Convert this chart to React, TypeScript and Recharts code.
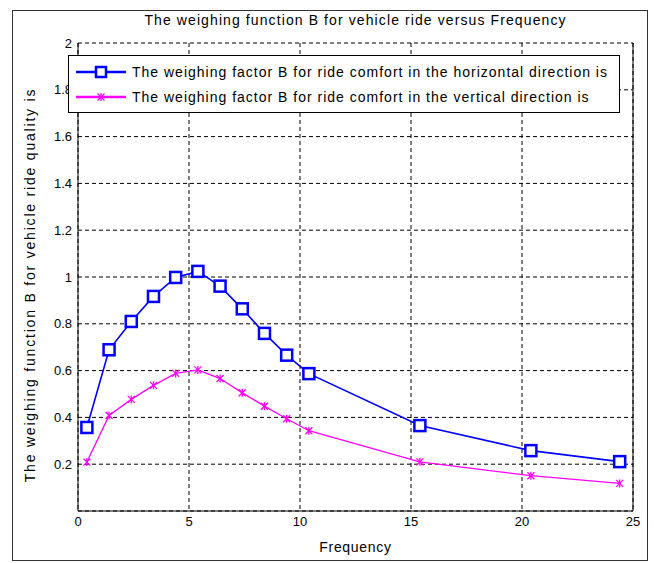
import React from 'react';
import {
  LineChart,
  Line,
  XAxis,
  YAxis,
  CartesianGrid,
  Legend,
  ReferenceLine,
} from 'recharts';

const frequency = [0.4, 1.4, 2.4, 3.4, 4.4, 5.4, 6.4, 7.4, 8.4, 9.4, 10.4, 15.4, 20.4, 24.4];
const horizontalB = [0.357, 0.689, 0.81, 0.917, 0.998, 1.024, 0.961, 0.864, 0.759, 0.666, 0.587, 0.365, 0.258, 0.211];
const verticalB = [0.209, 0.408, 0.477, 0.537, 0.588, 0.603, 0.566, 0.505, 0.448, 0.394, 0.343, 0.21, 0.151, 0.118];

const xTicks = [0, 5, 10, 15, 20, 25];
const yTicks = [0.2, 0.4, 0.6, 0.8, 1, 1.2, 1.4, 1.6, 1.8, 2];

const seriesNames = {
  horizontal: 'The weighing factor B for ride comfort in the horizontal direction is',
  vertical: 'The weighing factor B for ride comfort in the vertical direction is',
};

const data = frequency.map((f, i) => ({
  f,
  horizontal: horizontalB[i],
  vertical: verticalB[i],
}));

const FONT = '"Liberation Sans", Arial, sans-serif';
const BLUE = '#0000ff';
const PINK = '#ff00ff';

// blue square marker, white inside
const SquareDot = (props: any) => {
  const { cx, cy } = props;
  if (cx == null || cy == null) return null;
  return (
    <rect x={cx - 5.5} y={cy - 5.5} width={11} height={11} fill="#fff" stroke={BLUE} strokeWidth={2.5} />
  );
};

// matlab-style '*' marker
const StarDot = (props: any) => {
  const { cx, cy } = props;
  if (cx == null || cy == null) return null;
  const r = 3.5;
  return (
    <g stroke={PINK} strokeWidth={1.3}>
      <line x1={cx - r} y1={cy - r} x2={cx + r} y2={cy + r} />
      <line x1={cx - r} y1={cy + r} x2={cx + r} y2={cy - r} />
      <line x1={cx} y1={cy - r - 0.5} x2={cx} y2={cy + r + 0.5} />
    </g>
  );
};

const renderLegend = () => {
  const rows = [
    { name: seriesNames.horizontal, color: BLUE, marker: 'square' },
    { name: seriesNames.vertical, color: PINK, marker: 'star' },
  ];
  return (
    <div
      style={{
        border: '1px solid #000',
        background: '#fff',
        width: 552,
        height: 58,
        boxSizing: 'border-box',
        paddingTop: 3,
      }}
    >
      {rows.map((r) => (
        <div key={r.name} style={{ display: 'flex', alignItems: 'center', height: 25 }}>
          <svg width={58} height={16} style={{ flex: 'none', marginLeft: 5 }}>
            <line x1={2} y1={8} x2={52} y2={8} stroke={r.color} strokeWidth={2.5} />
            {r.marker === 'square' ? (
              <rect x={22} y={3} width={10} height={10} fill="#fff" stroke={r.color} strokeWidth={2.5} />
            ) : (
              <g stroke={r.color} strokeWidth={1.3}>
                <line x1={23.5} y1={4.5} x2={30.5} y2={11.5} />
                <line x1={23.5} y1={11.5} x2={30.5} y2={4.5} />
                <line x1={27} y1={4} x2={27} y2={12} />
              </g>
            )}
          </svg>
          <span
            style={{
              fontFamily: FONT,
              fontSize: 14,
              letterSpacing: 1,
              color: '#000',
              whiteSpace: 'nowrap',
            }}
          >
            {r.name}
          </span>
        </div>
      ))}
    </div>
  );
};

const yLabel = () => (
  <text
    x={30}
    y={285}
    transform="rotate(-90 30 285)"
    textAnchor="middle"
    dominantBaseline="central"
    fill="#000"
    fontSize={14}
    fontFamily={FONT}
    letterSpacing={1.8}
  >
    The weighing function B for vehicle ride quality is
  </text>
);

export default function App() {
  return (
    <div style={{ position: 'absolute', left: 0, top: 0, width: 654, height: 563, background: '#fff' }}>
      <div
        style={{
          position: 'absolute',
          left: 12,
          top: 10,
          width: 636,
          height: 551,
          border: '1px solid #333',
          boxSizing: 'border-box',
        }}
      />
      <div
        style={{
          position: 'absolute',
          left: 78,
          width: 555,
          top: 12,
          textAlign: 'center',
          fontFamily: FONT,
          fontSize: 14,
          letterSpacing: 1.1,
          color: '#000',
        }}
      >
        The weighing function B for vehicle ride versus Frequency
      </div>
      <LineChart
        width={654}
        height={563}
        data={data}
        margin={{ top: 43, right: 21, bottom: 22, left: 38 }}
        style={{ position: 'absolute', left: 0, top: 0 }}
      >
        <CartesianGrid stroke="#000" strokeDasharray="4 3" strokeWidth={1} />
        <XAxis
          dataKey="f"
          type="number"
          domain={[0, 25]}
          ticks={xTicks}
          height={30}
          tickLine={false}
          tickSize={4}
          tickMargin={2}
          axisLine={{ stroke: '#000', strokeWidth: 1 }}
          tick={{ fill: '#000', fontSize: 13, fontFamily: FONT }}
          label={{
            value: 'Frequency',
            position: 'bottom',
            offset: 1,
            fill: '#000',
            fontSize: 14,
            fontFamily: FONT,
            letterSpacing: 0.7,
          }}
        />
        <YAxis
          type="number"
          domain={[0, 2]}
          ticks={yTicks}
          width={40}
          tickLine={false}
          tickSize={4}
          tickMargin={2}
          axisLine={{ stroke: '#000', strokeWidth: 1 }}
          tick={{ fill: '#000', fontSize: 13, fontFamily: FONT }}
          label={{ content: yLabel }}
        />
        <ReferenceLine x={25} stroke="#000" strokeWidth={1} />
        <Legend
          layout="horizontal"
          verticalAlign="middle"
          align="center"
          content={renderLegend}
          wrapperStyle={{ position: 'absolute', left: 68, top: 55, width: 552, height: 58 }}
        />
        <Line
          type="linear"
          dataKey="horizontal"
          name={seriesNames.horizontal}
          stroke={BLUE}
          strokeWidth={1.6}
          dot={<SquareDot />}
          activeDot={false}
          isAnimationActive={false}
        />
        <Line
          type="linear"
          dataKey="vertical"
          name={seriesNames.vertical}
          stroke={PINK}
          strokeWidth={1.3}
          dot={<StarDot />}
          activeDot={false}
          isAnimationActive={false}
        />
      </LineChart>
    </div>
  );
}
